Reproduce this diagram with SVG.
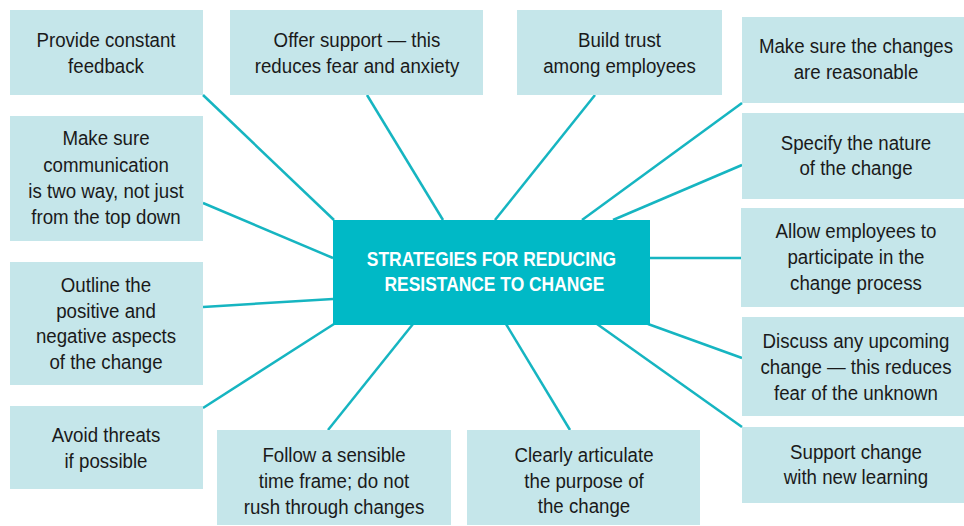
<svg xmlns="http://www.w3.org/2000/svg" width="964" height="526" viewBox="0 0 964 526">
<style>
.box{fill:#c5e6ea}
.t{font-family:"Liberation Sans",Arial,sans-serif;font-size:21px;fill:#1a1a1a;text-anchor:middle;transform-box:fill-box;transform-origin:center;transform:scaleX(0.89)}
.ct{font-family:"Liberation Sans",Arial,sans-serif;font-size:21px;font-weight:bold;fill:#ffffff;text-anchor:middle;transform-box:fill-box;transform-origin:center;transform:scaleX(0.83)}
.c line{stroke:#16b5c1;stroke-width:2.5}
</style>
<rect width="964" height="526" fill="#ffffff"/>
<g id="connectors" class="c">
<line x1="203" y1="95" x2="334" y2="220"/>
<line x1="367" y1="95" x2="443" y2="220"/>
<line x1="595" y1="95" x2="495" y2="220"/>
<line x1="742" y1="103" x2="582" y2="220"/>
<line x1="742" y1="165" x2="613" y2="220"/>
<line x1="650" y1="258" x2="742" y2="258"/>
<line x1="742" y1="358" x2="648" y2="324"/>
<line x1="742" y1="427" x2="597" y2="324"/>
<line x1="570" y1="430" x2="506" y2="324"/>
<line x1="328" y1="430" x2="413" y2="324"/>
<line x1="203" y1="408" x2="334" y2="324"/>
<line x1="203" y1="307" x2="333" y2="299"/>
<line x1="203" y1="203" x2="333" y2="258"/>
</g>
<g id="center">
<rect x="333" y="220" width="317" height="105" fill="#00b9c6"/>
<text class="ct" x="491.5" y="266">STRATEGIES FOR REDUCING</text>
<text class="ct" x="494.5" y="291">RESISTANCE TO CHANGE</text>
</g>
<g id="n-feedback">
<rect class="box" x="10" y="10" width="193" height="85"/>
<text class="t" x="106" y="47">Provide constant</text>
<text class="t" x="106" y="73">feedback</text>
</g>
<g id="n-support">
<rect class="box" x="230" y="10" width="253" height="85"/>
<text class="t" x="357" y="47">Offer support — this</text>
<text class="t" x="357" y="73">reduces fear and anxiety</text>
</g>
<g id="n-trust">
<rect class="box" x="517" y="10" width="205" height="85"/>
<text class="t" x="619.5" y="47">Build trust</text>
<text class="t" x="619.5" y="73">among employees</text>
</g>
<g id="n-reasonable">
<rect class="box" x="742" y="17" width="222" height="86"/>
<text class="t" x="856" y="53">Make sure the changes</text>
<text class="t" x="856" y="79">are reasonable</text>
</g>
<g id="n-nature">
<rect class="box" x="742" y="113" width="222" height="86"/>
<text class="t" x="856" y="150">Specify the nature</text>
<text class="t" x="856" y="175">of the change</text>
</g>
<g id="n-participate">
<rect class="box" x="741" y="208" width="223" height="99"/>
<text class="t" x="856" y="238">Allow employees to</text>
<text class="t" x="856" y="264">participate in the</text>
<text class="t" x="856" y="290">change process</text>
</g>
<g id="n-discuss">
<rect class="box" x="742" y="317" width="222" height="99"/>
<text class="t" x="856" y="348">Discuss any upcoming</text>
<text class="t" x="856" y="374">change — this reduces</text>
<text class="t" x="856" y="400">fear of the unknown</text>
</g>
<g id="n-learning">
<rect class="box" x="742" y="427" width="222" height="76"/>
<text class="t" x="856" y="459">Support change</text>
<text class="t" x="856" y="484">with new learning</text>
</g>
<g id="n-purpose">
<rect class="box" x="467" y="430" width="233" height="95"/>
<text class="t" x="584" y="462">Clearly articulate</text>
<text class="t" x="584" y="488">the purpose of</text>
<text class="t" x="584" y="513">the change</text>
</g>
<g id="n-timeframe">
<rect class="box" x="217" y="430" width="234" height="95"/>
<text class="t" x="334" y="462">Follow a sensible</text>
<text class="t" x="334" y="488">time frame; do not</text>
<text class="t" x="334" y="514">rush through changes</text>
</g>
<g id="n-threats">
<rect class="box" x="10" y="406" width="193" height="83"/>
<text class="t" x="106" y="442">Avoid threats</text>
<text class="t" x="106" y="468">if possible</text>
</g>
<g id="n-outline">
<rect class="box" x="10" y="262" width="193" height="123"/>
<text class="t" x="106" y="292">Outline the</text>
<text class="t" x="106" y="318">positive and</text>
<text class="t" x="106" y="343">negative aspects</text>
<text class="t" x="106" y="369">of the change</text>
</g>
<g id="n-communication">
<rect class="box" x="10" y="116" width="193" height="125"/>
<text class="t" x="106" y="145">Make sure</text>
<text class="t" x="106" y="172">communication</text>
<text class="t" x="106" y="198">is two way, not just</text>
<text class="t" x="106" y="224">from the top down</text>
</g>
</svg>
